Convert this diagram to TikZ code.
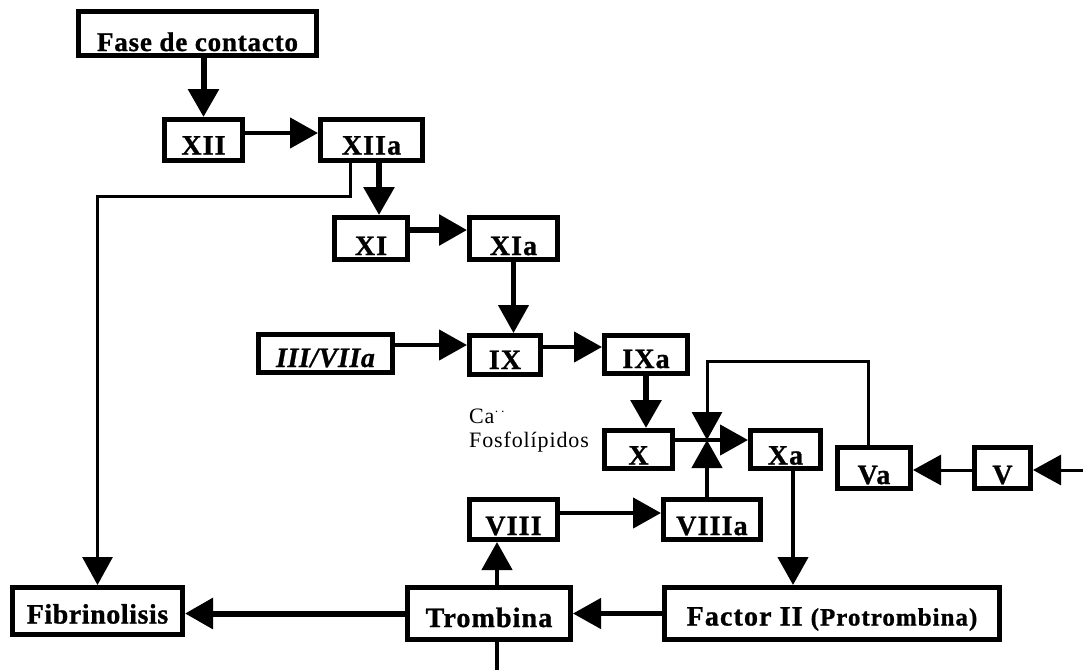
\documentclass[tikz,border=0pt]{standalone}
\usepackage{fontspec}
\setmainfont{Liberation Serif}
\usetikzlibrary{arrows.meta}
\begin{document}
\begin{tikzpicture}[x=1pt,y=-1pt,
  box/.style={draw, line width=5pt, rectangle, inner sep=0pt, text height=29pt, text depth=0pt,
    font=\bfseries\fontsize{28}{30}\selectfont\addfontfeature{LetterSpace=4,FakeBold=1}},
  tip/.style={-{Triangle[length=28pt,width=30pt]}},
  thickln/.style={line width=6pt},
  medln/.style={line width=4.5pt},
  thinln/.style={line width=3pt},
  small/.style={inner sep=0pt, anchor=west, font=\fontsize{22}{24}\selectfont\addfontfeature{LetterSpace=4}}]
\useasboundingbox[fill=white] (0,0) rectangle (1083,670);

% boxes
\node[box, minimum width=238pt, minimum height=44pt, text height=35pt,
  font=\bfseries\fontsize{27}{29}\selectfont\addfontfeature{LetterSpace=3,FakeBold=1}] (fase) at (197.5,33.5) {Fase de contacto};
\node[box, minimum width=78pt, minimum height=41pt] (xii) at (203.5,140) {XII};
\node[box, minimum width=102pt, minimum height=41pt] (xiia) at (371.5,140) {XIIa};
\node[box, minimum width=73pt, minimum height=42pt, text height=33pt] (xi) at (371,238.5) {XI};
\node[box, minimum width=88pt, minimum height=42pt, text height=33pt] (xia) at (513.5,238.5) {XIa};
\node[box, minimum width=134pt, minimum height=38pt, text height=27pt,
  font=\bfseries\itshape\fontsize{28}{30}\selectfont\addfontfeature{LetterSpace=2,FakeBold=1}] (iii) at (325.5,353.5) {III/VIIa};
\node[box, minimum width=71pt, minimum height=39pt, text height=28pt] (ix) at (505,355) {IX};
\node[box, minimum width=83pt, minimum height=38pt, text height=27pt] (ixa) at (646,354.5) {IXa};
\node[box, minimum width=68pt, minimum height=38pt, text height=30pt] (x) at (638.5,449.5) {X};
\node[box, minimum width=70pt, minimum height=38pt, text height=30pt] (xa) at (785.5,449.5) {Xa};
\node[box, minimum width=73pt, minimum height=41pt, text height=32pt] (va) at (874,468) {Va};
\node[box, minimum width=56pt, minimum height=41pt, text height=32pt] (v) at (1002.5,468) {V};
\node[box, minimum width=88pt, minimum height=40pt, text height=31pt] (viii) at (513.5,519.5) {VIII};
\node[box, minimum width=97pt, minimum height=40pt, text height=31pt] (viiia) at (712,519.5) {VIIIa};
\node[box, minimum width=170pt, minimum height=47pt, text height=25pt,
  font=\bfseries\fontsize{28}{30}\selectfont\addfontfeature{LetterSpace=2,FakeBold=1}] (fib) at (97.5,611) {Fibrinolisis};
\node[box, minimum width=163pt, minimum height=52pt, text height=27pt] (tromb) at (489,613.5) {Trombina};
\node[box, minimum width=335pt, minimum height=52pt, text height=24pt] (f2) at (832,613.5) {Factor II {\fontsize{25}{27}\selectfont(Protrombina)}};

% labels
\node[small] (ca) at (469,416) {Ca$^{\cdot\,\cdot}$};
\node[small] (fos) at (469,442) {Fosfolípidos};

% helper coordinates
\coordinate (J) at (707,440);
\coordinate (bot) at (497,670);
\coordinate (rin) at (1083,470);

% connectors
\draw[thickln,tip] (xii.north |- fase.south) -- (xii.north);
\draw[medln,tip] ([yshift=7pt]xii.east) -- ([yshift=7pt]xiia.west);
\draw[thickln,tip] ([xshift=7.5pt]xiia.south) -- ([xshift=8pt]xi.north);
\draw[thinln,tip] ([xshift=-21.5pt]xiia.south) -- ++(0,33) -| (fib.north);
\draw[thickln,tip] ([yshift=8.5pt]xi.east) -- ([yshift=8.5pt]xia.west);
\draw[medln,tip] (xia.south) -- (ix.north -| xia.south);
\draw[medln,tip] ([yshift=8.5pt]iii.east) -- ([yshift=10pt]ix.west);
\draw[medln,tip] ([yshift=8pt]ix.east) -- ([yshift=7.5pt]ixa.west);
\draw[thickln,tip] (ixa.south) -- (x.north -| ixa.south);
\draw[medln,tip] ([yshift=9.5pt]x.east) -- ([yshift=9.5pt]xa.west);
\draw[thinln,tip] ([xshift=-6pt]va.north) -- ++(0,-84) -| (J);
\draw[medln,tip] ([xshift=-5pt]viiia.north) -- (J);
\draw[medln,tip] ([yshift=6.5pt]viii.east) -- ([yshift=6.5pt]viiia.west);
\draw[medln,tip] ([xshift=8pt]tromb.north) -- ([xshift=-16.5pt]viii.south);
\draw[medln] ([xshift=8pt]tromb.south) -- (bot);
\draw[medln,tip] ([xshift=7.5pt]xa.south) -- ([xshift=-39pt]f2.north);
\draw[medln,tip] (f2.west) -- (tromb.east);
\draw[thickln,tip] (tromb.west) -- (fib.east |- tromb.west);
\draw[thinln,tip] ([yshift=-2pt]v.west) -- ([yshift=-2pt]va.east);
\draw[thinln,tip] (rin) -- ([yshift=-2pt]v.east);
\end{tikzpicture}
\end{document}
